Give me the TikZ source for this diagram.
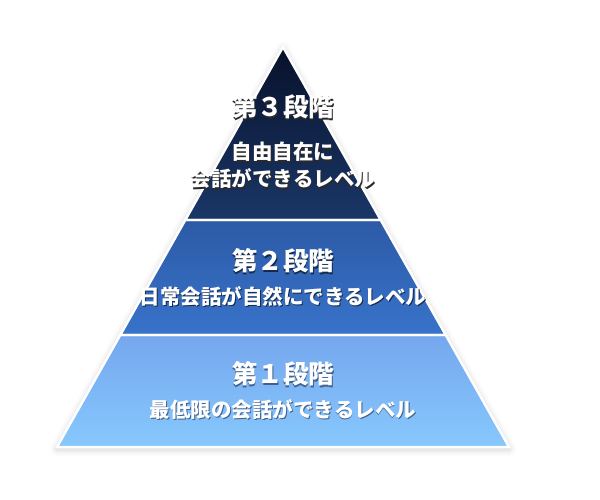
\documentclass[tikz,border=0pt]{standalone}
\usepackage{fontspec}
\newfontfamily\jp{Noto Sans CJK JP}
\usetikzlibrary{calc}
\definecolor{t3top}{HTML}{08112A}
\definecolor{t3bot}{HTML}{1A3768}
\definecolor{t2top}{HTML}{2C5AA6}
\definecolor{t2bot}{HTML}{3873CA}
\definecolor{t1top}{HTML}{75A7EE}
\definecolor{t1bot}{HTML}{87C8FD}
\definecolor{sh3}{HTML}{2A2A2A}
\definecolor{sh2}{HTML}{13294F}
\definecolor{sh1}{HTML}{40618F}
\newcommand{\shtext}[2]{\rlap{\hspace{0.9pt}\raisebox{-1.6pt}{\textcolor{#1}{#2}}}#2}
\tikzset{
  tierline/.style={draw=white, line width=2.4pt, line join=miter},
  title/.style={text=white, font=\jp\bfseries\fontsize{25.5}{28}\selectfont, inner sep=0pt},
  sub/.style={text=white, font=\jp\bfseries\fontsize{20.5}{27}\selectfont, inner sep=0pt, align=center},
}
\begin{document}
\begin{tikzpicture}[x=1pt,y=-1pt]
\useasboundingbox (0,0) rectangle (600,500);
% geometry
\coordinate (A) at (283,47);
\coordinate (L1) at (185.3,220);
\coordinate (R1) at (380.7,220);
\coordinate (L2) at (120.3,335);
\coordinate (R2) at (445.7,335);
\coordinate (L3) at (57,447);
\coordinate (R3) at (509,447);
% soft shadow
\foreach \w/\o in {14/0.03,10/0.04,7/0.05,4.5/0.07}{
  \draw[line width=\w pt, gray, opacity=\o, line join=round] ($(A)+(0,2)$) -- ($(L3)+(0,2)$) -- ($(R3)+(0,2)$) -- cycle;
}
% tiers
\shade[top color=t3top, bottom color=t3bot] (A) -- (L1) -- (R1) -- cycle;
\shade[top color=t2top, bottom color=t2bot] (L1) -- (L2) -- (R2) -- (R1) -- cycle;
\shade[top color=t1top, bottom color=t1bot] (L2) -- (L3) -- (R3) -- (R2) -- cycle;
\draw[tierline] (A) -- (L1) -- (R1) -- cycle;
\draw[tierline] (L1) -- (L2) -- (R2) -- (R1) -- cycle;
\draw[tierline] (L2) -- (L3) -- (R3) -- (R2) -- cycle;
% text
\node[title] (t3) at (283,108) {\shtext{sh3}{第３段階}};
\node[sub] (s3) at (283,166) {\shtext{sh3}{自由自在に}\\\shtext{sh3}{会話ができるレベル}};
\node[title] (t2) at (283,262) {\shtext{sh2}{第２段階}};
\node[sub] (s2) at (283,297) {\shtext{sh2}{日常会話が自然にできるレベル}};
\node[title] (t1) at (283,375) {\shtext{sh1}{第１段階}};
\node[sub] (s1) at (283,410) {\shtext{sh1}{最低限の会話ができるレベル}};
\end{tikzpicture}
\end{document}
